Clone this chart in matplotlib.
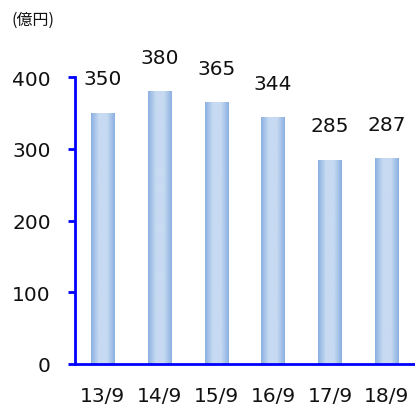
import numpy as np
import matplotlib
matplotlib.use("Agg")
import matplotlib.pyplot as plt
from matplotlib.colors import LinearSegmentedColormap

categories = ["13/9", "14/9", "15/9", "16/9", "17/9", "18/9"]
values = [350, 380, 365, 344, 285, 287]
yticks = [0, 100, 200, 300, 400]

plt.rcParams['font.family'] = ['DejaVu Sans', 'Noto Sans CJK JP']

fig = plt.figure(figsize=(4.15, 4.06), dpi=100)
ax = fig.add_axes([74.5/415, 41/406, (415-74.5)/415, 287/406])

x = np.arange(len(categories))
bars = ax.bar(x, values, width=0.41, color='none', edgecolor='none', zorder=2)

cmap = LinearSegmentedColormap.from_list('g', ['#8AB0E0', '#C7DAF2', '#C7DAF2', '#8AB0E0'])
grad = np.linspace(0, 1, 256).reshape(1, -1)
for b in bars:
    x0, w, h = b.get_x(), b.get_width(), b.get_height()
    im = ax.imshow(grad, cmap=cmap, aspect='auto', extent=[x0, x0 + w, 0, h],
                   zorder=2, interpolation='bilinear')
    im.set_clip_path(b)

for xi, v in zip(x, values):
    ax.annotate(str(v), (xi, v), xytext=(0, 34), textcoords='offset pixels',
                ha='center', va='center', fontsize=14.5, color='#111111',
                annotation_clip=False)

ax.set_xlim(-0.5, 5.5)
ax.set_ylim(0, 400)
ax.set_xticks(x)
ax.set_xticklabels(categories, fontsize=14.5, color='#111111')
ax.set_yticks(yticks)
ax.set_yticklabels([str(t) for t in yticks], fontsize=14.5, color='#111111')

for s in ['top', 'right']:
    ax.spines[s].set_visible(False)
for s in ['left', 'bottom']:
    ax.spines[s].set_color('#0000FF')
    ax.spines[s].set_linewidth(2)
ax.tick_params(axis='y', direction='out', length=5, width=2, color='#0000FF', pad=12)
ax.tick_params(axis='x', length=0, pad=16)

fig.text(11/415, 1 - 20/406, "(億円)", fontsize=11.5, family=['Noto Sans CJK JP', 'DejaVu Sans'],
         ha='left', va='center', color='#111111')

fig.savefig("out.png", dpi=100)
